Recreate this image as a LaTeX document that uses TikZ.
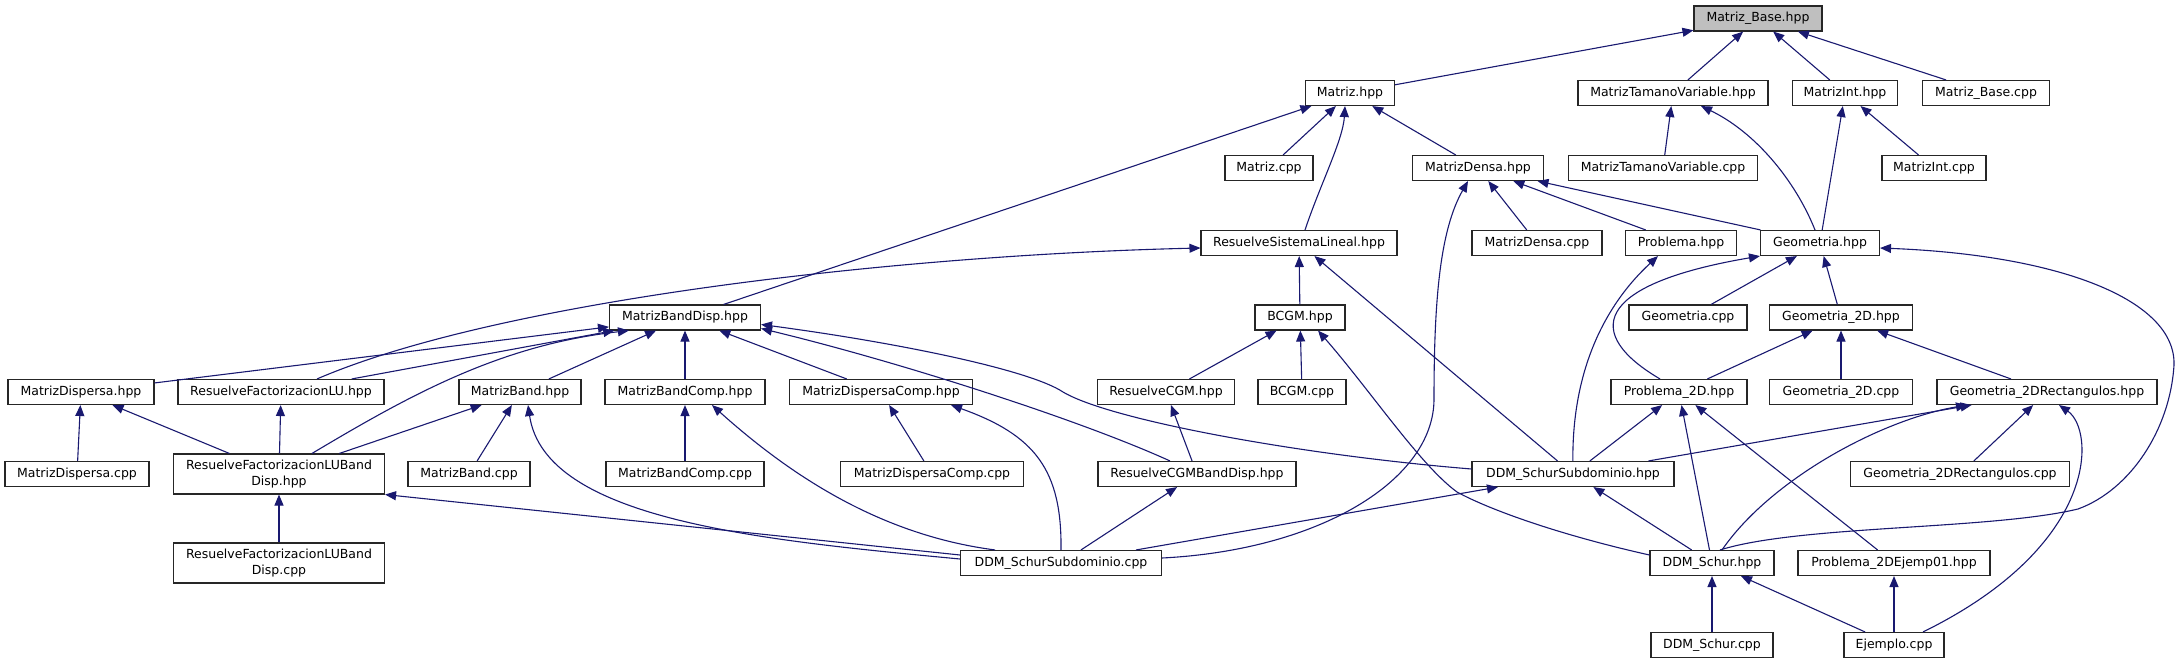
\documentclass[tikz,border=0pt]{standalone}
\usepackage{fontspec}
\setmainfont{DejaVu Sans}
\usetikzlibrary{arrows.meta,calc}
\definecolor{mblue}{RGB}{25,25,112}
\definecolor{rootgray}{RGB}{191,191,191}
\begin{document}
\begin{tikzpicture}[x=0.5pt,y=-0.5pt,
  box/.style={draw=black!85, line width=0.55pt, fill=white, inner sep=0pt, minimum height=12.5pt,
    align=center, font=\fontsize{6.25pt}{7.65pt}\selectfont},
  tall/.style={minimum height=20pt},
  root/.style={fill=rootgray},
  dep/.style={draw=mblue, line width=0.55pt, -{Triangle[length=5.5pt,width=4.5pt]}}]
\useasboundingbox (0,0) rectangle (2180,664);
% row 1
\node[box,root,minimum width=64pt] (mbh) at (1758,18.5) {Matriz\_Base.hpp};
% row 2
\node[box,minimum width=44.5pt] (mh) at (1350,93) {Matriz.hpp};
\node[box,minimum width=95pt] (mtvh) at (1673,93) {MatrizTamanoVariable.hpp};
\node[box,minimum width=52.5pt] (mih) at (1845,93) {MatrizInt.hpp};
\node[box,minimum width=63.5pt] (mbc) at (1986,93) {Matriz\_Base.cpp};
% row 3
\node[box,minimum width=44pt] (mc) at (1269,168) {Matriz.cpp};
\node[box,minimum width=65.5pt] (mdh) at (1478,168) {MatrizDensa.hpp};
\node[box,minimum width=94.5pt] (mtvc) at (1663,168) {MatrizTamanoVariable.cpp};
\node[box,minimum width=52pt] (mic) at (1934,168) {MatrizInt.cpp};
% row 4
\node[box,minimum width=98pt] (rsl) at (1299,243) {ResuelveSistemaLineal.hpp};
\node[box,minimum width=65pt] (mdc) at (1537,243) {MatrizDensa.cpp};
\node[box,minimum width=55.5pt] (ph) at (1681,243) {Problema.hpp};
\node[box,minimum width=59.5pt] (gh) at (1820,243) {Geometria.hpp};
% row 5
\node[box,minimum width=75.5pt] (mbdh) at (685,317.5) {MatrizBandDisp.hpp};
\node[box,minimum width=45pt] (bcgmh) at (1300,317.5) {BCGM.hpp};
\node[box,minimum width=59pt] (gc) at (1688,317.5) {Geometria.cpp};
\node[box,minimum width=71.5pt] (g2h) at (1841,317.5) {Geometria\_2D.hpp};
% row 6
\node[box,minimum width=73pt] (mdisph) at (81,392) {MatrizDispersa.hpp};
\node[box,minimum width=103pt] (rfluh) at (281,392) {ResuelveFactorizacionLU.hpp};
\node[box,minimum width=61pt] (mbandh) at (520,392) {MatrizBand.hpp};
\node[box,minimum width=80pt] (mbch) at (685,392) {MatrizBandComp.hpp};
\node[box,minimum width=91.5pt] (mdch) at (881,392) {MatrizDispersaComp.hpp};
\node[box,minimum width=68.5pt] (rcgmh) at (1166,392) {ResuelveCGM.hpp};
\node[box,minimum width=44pt] (bcgmc) at (1302,392) {BCGM.cpp};
\node[box,minimum width=68pt] (p2h) at (1679,392) {Problema\_2D.hpp};
\node[box,minimum width=71.5pt] (g2c) at (1841,392) {Geometria\_2D.cpp};
\node[box,minimum width=110pt] (g2rh) at (2047,392) {Geometria\_2DRectangulos.hpp};
% row 7
\node[box,minimum width=72pt] (mdispc) at (77,474) {MatrizDispersa.cpp};
\node[box,tall,minimum width=105.5pt] (rflubh) at (279,474) {ResuelveFactorizacionLUBand\\Disp.hpp};
\node[box,minimum width=61pt] (mbandc) at (469,474) {MatrizBand.cpp};
\node[box,minimum width=79pt] (mbcc) at (685,474) {MatrizBandComp.cpp};
\node[box,minimum width=91.5pt] (mdcc) at (932,474) {MatrizDispersaComp.cpp};
\node[box,minimum width=99pt] (rcgmbh) at (1197,474) {ResuelveCGMBandDisp.hpp};
\node[box,minimum width=101pt] (ddmsh) at (1573,474) {DDM\_SchurSubdominio.hpp};
\node[box,minimum width=109.5pt] (g2rc) at (1960,474) {Geometria\_2DRectangulos.cpp};
% row 8
\node[box,tall,minimum width=105.5pt] (rflubc) at (279,563) {ResuelveFactorizacionLUBand\\Disp.cpp};
\node[box,minimum width=100.5pt] (ddmscpp) at (1061,563) {DDM\_SchurSubdominio.cpp};
\node[box,minimum width=62pt] (ddmh) at (1712,563) {DDM\_Schur.hpp};
\node[box,minimum width=96pt] (p2e) at (1894,563) {Problema\_2DEjemp01.hpp};
% row 9
\node[box,minimum width=61pt] (ddmc) at (1712,645) {DDM\_Schur.cpp};
\node[box,minimum width=50pt] (ejc) at (1894,645) {Ejemplo.cpp};
% edges
\draw[dep] (mh) -- (mbh);
\draw[dep] (mtvh) -- (mbh);
\draw[dep] (mih) -- (mbh);
\draw[dep] (mbc) -- (mbh);
\draw[dep] (mbdh) -- (mh);
\draw[dep] (mc) -- (mh);
\draw[dep] ($(rsl.north)+(6,0)$) .. controls (1320,185) and (1343,140) .. ($(mh.south)+(-5,0)$);
\draw[dep] (mdh) -- (mh);
\draw[dep] (mtvc) -- (mtvh);
\draw[dep] ($(gh.north)+(-5,0)$) .. controls (1795,180) and (1755,132) .. ($(mtvh.south)+(28,0)$);
\draw[dep] (gh) -- (mih);
\draw[dep] (mic) -- (mih);
\draw[dep] ($(ddmscpp.east)+(0,-5)$) .. controls (1320,550) and (1434,480) .. (1434,399)
  .. controls (1434,300) and (1440,230) .. ($(mdh.south)+(-10,0)$);
\draw[dep] (mdc) -- (mdh);
\draw[dep] (ph) -- (mdh);
\draw[dep] (gh) -- (mdh);
\draw[dep] ($(rfluh.north)+(36,0)$) .. controls (500,300) and (900,255) .. ($(rsl.west)+(0,5)$);
\draw[dep] (bcgmh) -- (rsl);
\draw[dep] (ddmsh) -- (rsl);
\draw[dep] (mdisph) -- (mbdh);
\draw[dep] (rfluh) -- (mbdh);
\draw[dep] ($(rflubh.north)+(33,0)$) .. controls (410,395) and (500,345) .. ($(mbdh.south west)+(20,0)$);
\draw[dep] (mbandh) -- (mbdh);
\draw[dep] (mbch) -- (mbdh);
\draw[dep] (mdch) -- (mbdh);
\draw[dep] ($(rcgmbh.north)+(-27,0)$) .. controls (1080,420) and (900,362) .. ($(mbdh.east)+(0,11)$);
\draw[dep] ($(ddmsh.west)+(0,-5)$) .. controls (1300,455) and (1110,420) .. (1063,392)
  .. controls (1030,370) and (900,343) .. ($(mbdh.east)+(0,7)$);
\draw[dep] (rcgmh) -- (bcgmh);
\draw[dep] (bcgmc) -- (bcgmh);
\draw[dep] ($(ddmh.west)+(0,-8)$) .. controls (1560,535) and (1490,510) .. (1457,492)
  .. controls (1420,465) and (1370,390) .. ($(bcgmh.south)+(18,0)$);
\draw[dep] (ddmsh) .. controls (1572,370) and (1605,305) .. ($(ph.south)+(-23,0)$);
\draw[dep] ($(p2h.north)+(-19,0)$) .. controls (1585,335) and (1590,285) .. (gh.south west);
\draw[dep] (gc) -- (gh);
\draw[dep] (g2h) -- (gh);
\draw[dep] ($(ddmh.north)+(8,0)$) .. controls (1800,525) and (1990,530) .. (2078,509)
  .. controls (2130,490) and (2170,430) .. (2174,365)
  .. controls (2176,300) and (2060,255) .. ($(gh.east)+(0,5)$);
\draw[dep] (p2h) -- (g2h);
\draw[dep] (g2c) -- (g2h);
\draw[dep] (g2rh) -- (g2h);
\draw[dep] (mdispc) -- (mdisph);
\draw[dep] (rflubh) -- (mdisph);
\draw[dep] (rflubh) -- (rfluh);
\draw[dep] (rflubh) -- (mbandh);
\draw[dep] (mbandc) -- (mbandh);
\draw[dep] ($(ddmscpp.west)+(0,-4)$) .. controls (760,540) and (545,520) .. ($(mbandh.south)+(8,0)$);
\draw[dep] (mbcc) -- (mbch);
\draw[dep] ($(ddmscpp.north)+(-66,0)$) .. controls (880,535) and (790,475) .. ($(mbch.south)+(27,0)$);
\draw[dep] (mdcc) -- (mdch);
\draw[dep] (ddmscpp.north) .. controls (1062,470) and (1035,435) .. ($(mdch.south)+(70,0)$);
\draw[dep] (rcgmbh) -- (rcgmh);
\draw[dep] (ddmscpp) -- (rcgmbh);
\draw[dep] (ddmsh) -- (p2h);
\draw[dep] (ddmh) -- (p2h);
\draw[dep] (p2e) -- (p2h);
\draw[dep] (ddmsh) -- (g2rh);
\draw[dep] ($(ddmh.north)+(10,0)$) .. controls (1770,480) and (1880,420) .. ($(g2rh.south)+(-80,0)$);
\draw[dep] (g2rc) -- (g2rh);
\draw[dep] ($(ejc.north)+(29,0)$) .. controls (2100,545) and (2095,430) .. ($(g2rh.south)+(12,0)$);
\draw[dep] (rflubc) -- (rflubh);
\draw[dep] ($(ddmscpp.west)+(0,-8)$) -- (rflubh.south east);
\draw[dep] (ddmscpp) -- (ddmsh);
\draw[dep] (ddmh) -- (ddmsh);
\draw[dep] (ddmc) -- (ddmh);
\draw[dep] (ejc) -- (ddmh);
\draw[dep] (ejc) -- (p2e);
\end{tikzpicture}
\end{document}
